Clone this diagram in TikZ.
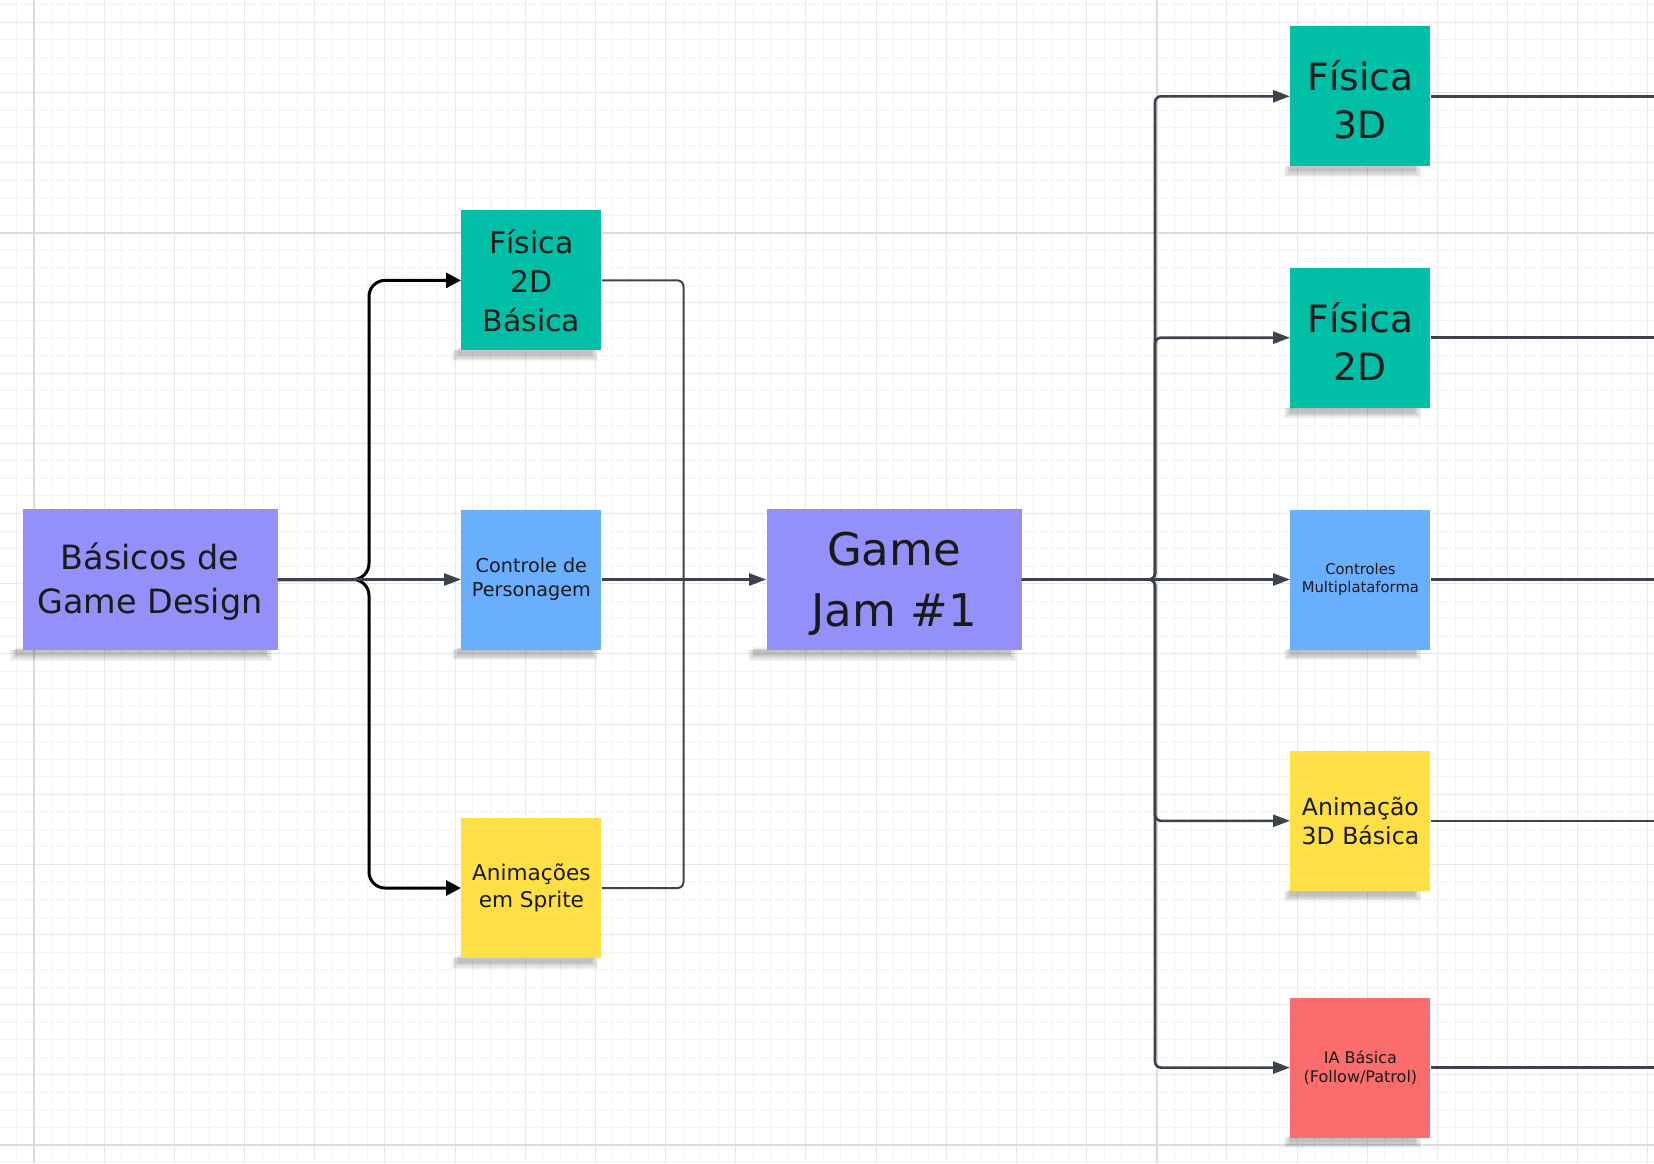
\documentclass[tikz,border=0pt]{standalone}
\usepackage{fontspec}
\setmainfont{DejaVu Sans}
\usetikzlibrary{arrows.meta,backgrounds}
\definecolor{cViolet}{HTML}{9490FA}
\definecolor{cTeal}{HTML}{00BFA6}
\definecolor{cBlue}{HTML}{6AAFFE}
\definecolor{cYellow}{HTML}{FEE046}
\definecolor{cRed}{HTML}{FB6D6D}
\definecolor{ink}{HTML}{1A1A1A}
\definecolor{cLine}{HTML}{3D434C}
\definecolor{gMinor}{HTML}{F3F3F3}
\definecolor{gMed}{HTML}{E8E8E8}
\definecolor{gMajor}{HTML}{DCDCDC}
\begin{document}
\begin{tikzpicture}[x=0.5pt,y=-0.5pt,
  note/.style={rectangle, inner sep=0pt, align=center, text=ink},
  smallnote/.style={note, minimum width=70pt, minimum height=70pt},
  bignote/.style={note, minimum width=127.5pt, minimum height=70.5pt},
  gridminor/.style={draw=gMinor, line width=0.5pt},
  gridmed/.style={draw=gMed, line width=0.5pt},
  gridmajor/.style={draw=gMajor, line width=0.8pt},
  conn/.style={draw=cLine, line width=1.3pt},
  thinconn/.style={draw=cLine, line width=1pt, rounded corners=3pt},
  garrow/.style={conn, rounded corners=3pt, -{Triangle[length=8.5pt,width=6pt]}},
  barrow/.style={draw=black, line width=1.5pt, rounded corners=8pt, -{Triangle[length=7.5pt,width=7.5pt]}},
]
\useasboundingbox (0,0) rectangle (1654,1163);

\begin{pgfonlayer}{background}
\fill[white] (0,0) rectangle (1654,1163);
\foreach \k in {-1,...,92} \draw[gridminor] ({34+\k*17.543},0) -- ({34+\k*17.543},1163);
\foreach \k in {-1,...,65} \draw[gridminor] (0,{22.3+\k*17.543}) -- (1654,{22.3+\k*17.543});
\foreach \k in {0,4,...,92} \draw[gridmed] ({34+\k*17.543},0) -- ({34+\k*17.543},1163);
\foreach \k in {0,4,...,64} \draw[gridmed] (0,{22.3+\k*17.543}) -- (1654,{22.3+\k*17.543});
\foreach \k in {0,64} \draw[gridmajor] ({34+\k*17.543},0) -- ({34+\k*17.543},1163);
\foreach \k in {12,64} \draw[gridmajor] (0,{22.3+\k*17.543}) -- (1654,{22.3+\k*17.543});
\end{pgfonlayer}

% notes
\node[bignote, fill=cViolet, font=\fontsize{16.7pt}{21.7pt}\selectfont] (B) at (150,579.5) {\rule{0pt}{15.5pt}Básicos de\\Game Design};
\node[smallnote, fill=cTeal, font=\fontsize{14.9pt}{19.5pt}\selectfont] (F2DB) at (531.4,280.4) {Física\\2D\\Básica};
\node[smallnote, fill=cBlue, font=\fontsize{9.6pt}{12pt}\selectfont] (C) at (531.4,579.5) {Controle de\\Personagem};
\node[smallnote, fill=cYellow, font=\fontsize{10.8pt}{13.3pt}\selectfont] (AS) at (531.4,888) {Animações\\em Sprite};
\node[bignote, fill=cViolet, font=\fontsize{22.5pt}{30.5pt}\selectfont] (GJ) at (894,579.5) {\rule{0pt}{21pt}Game\\Jam \#1};
\node[smallnote, fill=cTeal, font=\fontsize{18.8pt}{24.2pt}\selectfont] (F3D) at (1360.4,96.3) {\rule{0pt}{18.5pt}Física\\3D};
\node[smallnote, fill=cTeal, font=\fontsize{18.8pt}{24.2pt}\selectfont] (F2D) at (1360.4,337.7) {\rule{0pt}{18.5pt}Física\\2D};
\node[smallnote, fill=cBlue, font=\fontsize{7.4pt}{9.2pt}\selectfont] (CM) at (1360.4,579.5) {Controles\\Multiplataforma};
\node[smallnote, fill=cYellow, font=\fontsize{11.8pt}{14.7pt}\selectfont] (A3D) at (1360.4,820.8) {Animação\\3D Básica};
\node[smallnote, fill=cRed, font=\fontsize{8pt}{9.2pt}\selectfont] (IA) at (1360.4,1067.6) {IA Básica\\(Follow/Patrol)};

% soft shadows under the notes
\begin{pgfonlayer}{background}
\foreach \n/\l/\r in {B/3/6, F2DB/1.5/5, C/1.5/5, AS/1.5/5, GJ/6/6, F3D/0/8, F2D/0/8, CM/0/8, A3D/0/8, IA/0/8} {
  \foreach \f in {1,0.8,0.6,0.4,0.2,0} {
    \fill[black, opacity=0.045] ([xshift={-\l pt-3*\f pt}, yshift={1.5pt-1.5*\f pt}]\n.south west) rectangle ([xshift={-\r pt+3*\f pt}, yshift={-2.2pt-3*\f pt}]\n.south east);
  }
}
\end{pgfonlayer}

% helper coordinates
\coordinate (brace) at (369,579.5);
\coordinate (merge) at (683.5,579.5);
\coordinate (bus) at (1155,579.5);
\coordinate (xr) at (1654,0);

% left fan-out
\draw[barrow] (B.east) -- (brace) |- (F2DB.west);
\draw[barrow] (B.east) -- (brace) |- (AS.west);
\draw[garrow] (B.east) -- (C.west);

% merge into Game Jam
\draw[thinconn] (F2DB.east) -| (merge);
\draw[thinconn] (AS.east) -| (merge);
\draw[garrow] (C.east) -- (GJ.west);

% right fan-out
\draw[garrow] (GJ.east) -- (bus) |- (F3D.west);
\draw[garrow] (GJ.east) -- (bus) |- (F2D.west);
\draw[garrow] (GJ.east) -- (CM.west);
\draw[garrow] (GJ.east) -- (bus) |- (A3D.west);
\draw[garrow] (GJ.east) -- (bus) |- (IA.west);

% exits to the right edge
\draw[conn] (F3D.east) -- (F3D.east -| xr);
\draw[conn] (F2D.east) -- (F2D.east -| xr);
\draw[conn] (CM.east) -- (CM.east -| xr);
\draw[conn] (A3D.east) -- (A3D.east -| xr);
\draw[conn] (IA.east) -- (IA.east -| xr);
\end{tikzpicture}
\end{document}
